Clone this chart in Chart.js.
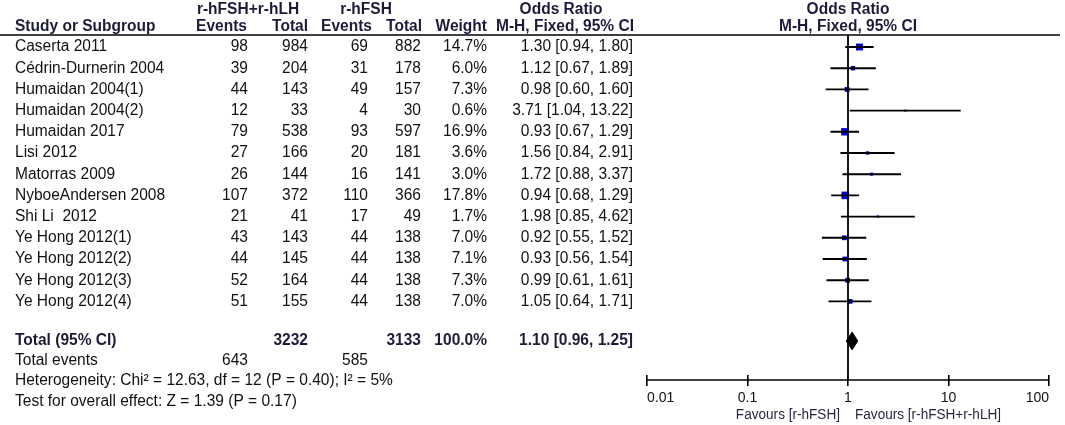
<!DOCTYPE html>
<html>
<head>
<meta charset="utf-8">
<script src="https://cdn.jsdelivr.net/npm/chart.js@4.4.1/dist/chart.umd.min.js"></script>
<style>
  html, body { margin: 0; padding: 0; background: #fff; }
  #wrap { width: 1065px; height: 425px; position: relative; }
</style>
</head>
<body>
<div id="wrap"><canvas id="forest"></canvas></div>
<script>
const studies = ["Caserta 2011", "Cédrin-Durnerin 2004", "Humaidan 2004(1)", "Humaidan 2004(2)",
  "Humaidan 2017", "Lisi 2012", "Matorras 2009", "NyboeAndersen 2008", "Shi Li  2012",
  "Ye Hong 2012(1)", "Ye Hong 2012(2)", "Ye Hong 2012(3)", "Ye Hong 2012(4)"];
const eventsA = [98, 39, 44, 12, 79, 27, 26, 107, 21, 43, 44, 52, 51];
const totalA  = [984, 204, 143, 33, 538, 166, 144, 372, 41, 143, 145, 164, 155];
const eventsB = [69, 31, 49, 4, 93, 20, 16, 110, 17, 44, 44, 44, 44];
const totalB  = [882, 178, 157, 30, 597, 181, 141, 366, 49, 138, 138, 138, 138];
const weights = [14.7, 6.0, 7.3, 0.6, 16.9, 3.6, 3.0, 17.8, 1.7, 7.0, 7.1, 7.3, 7.0];
const oddsRatio = [1.30, 1.12, 0.98, 3.71, 0.93, 1.56, 1.72, 0.94, 1.98, 0.92, 0.93, 0.99, 1.05];
const ciLow  = [0.94, 0.67, 0.60, 1.04, 0.67, 0.84, 0.88, 0.68, 0.85, 0.55, 0.56, 0.61, 0.64];
const ciHigh = [1.80, 1.89, 1.60, 13.22, 1.29, 2.91, 3.37, 1.29, 4.62, 1.52, 1.54, 1.61, 1.71];
const pooled = [1.10, 0.96, 1.25];          // OR, low, high
const pooledTotals = [3232, 3133];
const pooledEvents = [643, 585];
const xTicks = [0.01, 0.1, 1, 10, 100];

// vertical positions in row units on the y scale
const ROW_TOTAL = 13.868, ROW_EVENTS = 14.81, ROW_HET = 15.755, ROW_TEST = 16.745;
const Y_MIN = -0.566, Y_MAX = 15.472, Y_AXIS = 15.708;

const whiskers = [];
studies.forEach((s, i) => {
  whiskers.push({x: ciLow[i], y: i}, {x: ciHigh[i], y: i}, {x: null, y: null});
});
const squares = oddsRatio.map((v, i) => ({x: v, y: i}));
const squareRadius = weights.map(w => Math.max(2, 1.8 * Math.sqrt(w)) / Math.SQRT2);
const diamond = [
  {x: pooled[1], y: ROW_TOTAL}, {x: pooled[0], y: ROW_TOTAL - 0.42},
  {x: pooled[2], y: ROW_TOTAL}, {x: pooled[0], y: ROW_TOTAL + 0.42},
  {x: pooled[1], y: ROW_TOTAL}
];

const SX = 0.97;
const INK = "#111";
const HEAD = "#1c1c3a";
const FONT = "'Liberation Sans', Arial, sans-serif";
function txt(ctx, s, x, y, align, bold, color, size) {
  ctx.save();
  ctx.font = (bold ? "bold " : "") + (size || 16) + "px " + FONT;
  ctx.fillStyle = color || INK;
  ctx.textBaseline = "middle";
  ctx.textAlign = align;
  ctx.translate(x, y);
  ctx.scale(SX, 1);
  ctx.fillText(s, 0, 0);
  ctx.restore();
}

const col = {study: 15, evA: 248, totA: 308, evB: 368, totB: 421, w: 487, ci: 633};

const tablePlugin = {
  id: "table",
  afterDraw(chart) {
    const ctx = chart.ctx;
    const ys = chart.scales.y;
    const yr = r => ys.getPixelForValue(r);

    // header
    txt(ctx, "r-hFSH+r-hLH", 248, 10, "center", true, HEAD);
    txt(ctx, "r-hFSH", 366, 10, "center", true, HEAD);
    txt(ctx, "Odds Ratio", 561, 10, "center", true, HEAD);
    txt(ctx, "Odds Ratio", 848, 10, "center", true, HEAD);
    txt(ctx, "Study or Subgroup", col.study, 27, "left", true, HEAD);
    txt(ctx, "Events", 247, 27, "right", true, HEAD);
    txt(ctx, "Total", 308, 27, "right", true, HEAD);
    txt(ctx, "Events", 372, 27, "right", true, HEAD);
    txt(ctx, "Total", 422, 27, "right", true, HEAD);
    txt(ctx, "Weight", 487, 27, "right", true, HEAD);
    txt(ctx, "M-H, Fixed, 95% CI", 634, 27, "right", true, HEAD);
    txt(ctx, "M-H, Fixed, 95% CI", 848, 27, "center", true, HEAD);

    ctx.save();
    ctx.strokeStyle = "#000";
    ctx.lineWidth = 1.5;
    ctx.beginPath();
    ctx.moveTo(0, yr(Y_MIN));
    ctx.lineTo(1060, yr(Y_MIN));
    ctx.stroke();
    ctx.restore();

    studies.forEach((s, i) => {
      const y = yr(i);
      txt(ctx, s, col.study, y, "left");
      txt(ctx, String(eventsA[i]), col.evA, y, "right");
      txt(ctx, String(totalA[i]), col.totA, y, "right");
      txt(ctx, String(eventsB[i]), col.evB, y, "right");
      txt(ctx, String(totalB[i]), col.totB, y, "right");
      txt(ctx, weights[i].toFixed(1) + "%", col.w, y, "right");
      txt(ctx, oddsRatio[i].toFixed(2) + " [" + ciLow[i].toFixed(2) + ", " + ciHigh[i].toFixed(2) + "]", col.ci, y, "right");
    });

    let y = yr(ROW_TOTAL);
    txt(ctx, "Total (95% CI)", col.study, y, "left", true, HEAD);
    txt(ctx, String(pooledTotals[0]), col.totA, y, "right", true, HEAD);
    txt(ctx, String(pooledTotals[1]), col.totB, y, "right", true, HEAD);
    txt(ctx, "100.0%", col.w, y, "right", true, HEAD);
    txt(ctx, pooled[0].toFixed(2) + " [" + pooled[1].toFixed(2) + ", " + pooled[2].toFixed(2) + "]", col.ci, y, "right", true, HEAD);

    y = yr(ROW_EVENTS);
    txt(ctx, "Total events", col.study, y, "left");
    txt(ctx, String(pooledEvents[0]), col.evA, y, "right");
    txt(ctx, String(pooledEvents[1]), col.evB, y, "right");
    txt(ctx, "Heterogeneity: Chi² = 12.63, df = 12 (P = 0.40); I² = 5%", col.study, yr(ROW_HET), "left");
    txt(ctx, "Test for overall effect: Z = 1.39 (P = 0.17)", col.study, yr(ROW_TEST), "left");

    txt(ctx, "Favours [r-hFSH]", 840, 415, "right", false, "#2a2440", 14);
    txt(ctx, "Favours [r-hFSH+r-hLH]", 855, 415, "left", false, "#2a2440", 14);
  }
};

new Chart(document.getElementById("forest"), {
  type: "scatter",
  data: {
    datasets: [
      {
        data: [{x: 1, y: Y_MIN}, {x: 1, y: Y_AXIS}],
        showLine: true, borderColor: "#000", borderWidth: 1.8, pointRadius: 0, clip: false
      },
      {
        data: [{x: xTicks[0], y: Y_AXIS}, {x: xTicks[xTicks.length - 1], y: Y_AXIS}],
        showLine: true, borderColor: "#000", borderWidth: 1.6, pointRadius: 0, clip: false
      },
      {
        data: whiskers,
        showLine: true, spanGaps: false, borderColor: "#000", borderWidth: 1.9, pointRadius: 0
      },
      {
        data: squares,
        pointStyle: "rect", pointRadius: squareRadius, pointHoverRadius: squareRadius,
        backgroundColor: "#0000cc", borderWidth: 0
      },
      {
        data: diamond,
        showLine: true, fill: "shape", backgroundColor: "#000", borderColor: "#000",
        borderWidth: 1, pointRadius: 0
      }
    ]
  },
  options: {
    responsive: true,
    maintainAspectRatio: false,
    animation: false,
    layout: { padding: { left: 647, right: 16, top: 35, bottom: 20 } },
    plugins: { legend: { display: false }, tooltip: { enabled: false } },
    scales: {
      x: {
        type: "logarithmic",
        min: 0.01, max: 100,
        afterBuildTicks: s => { s.ticks = xTicks.map(v => ({value: v, major: true})); },
        afterFit: s => { s.height = 30; },
        grid: { drawOnChartArea: false, drawTicks: true, tickLength: 11, color: "#000", lineWidth: 1.6 },
        border: { display: false },
        ticks: {
          color: INK, padding: 4, align: "inner",
          font: { family: FONT, size: 14 },
          callback: v => String(v),
          autoSkip: false, maxRotation: 0
        }
      },
      y: {
        display: false, reverse: true, min: Y_MIN, max: Y_MAX
      }
    }
  },
  plugins: [tablePlugin]
});
</script>
</body>
</html>
